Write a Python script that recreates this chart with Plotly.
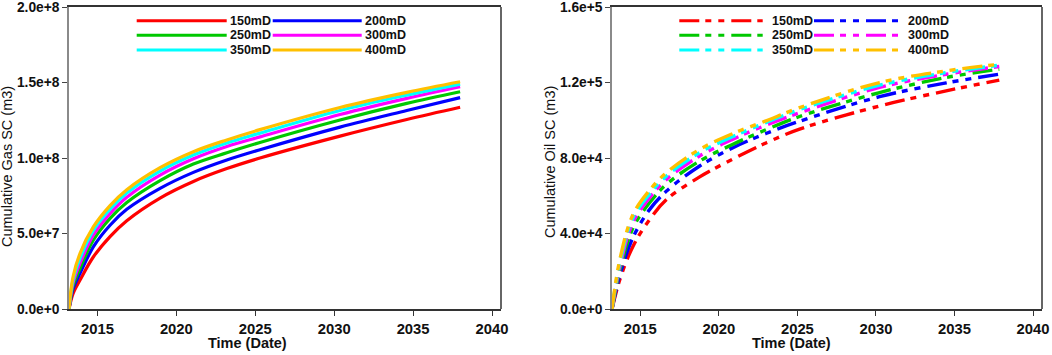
import plotly.graph_objects as go

# ---------------- data ----------------
labels = ["150mD", "200mD", "250mD", "300mD", "350mD", "400mD"]
colors = ["#ff0000", "#0000ff", "#00c800", "#ff00ff", "#00ffff", "#ffc000"]

t_gas = [2013.2, 2013.45, 2013.9, 2014.75, 2015.8, 2016.86, 2018.97,
         2021.08, 2023.2, 2025.3, 2030.37, 2034.6, 2037.98]
gas_150 = [0, 1.0e7, 1.92e7, 3.46e7, 4.8e7, 5.85e7, 7.35e7, 8.45e7, 9.3e7, 1.0e8, 1.145e8, 1.255e8, 1.336e8]
gas_200 = [0, 1.3e7, 2.36e7, 4.13e7, 5.55e7, 6.6e7, 7.99e7, 9.05e7, 9.87e7, 1.055e8, 1.205e8, 1.315e8, 1.40e8]
gas_250 = [0, 1.5e7, 2.7e7, 4.57e7, 6.0e7, 7.05e7, 8.5e7, 9.6e7, 1.035e8, 1.103e8, 1.252e8, 1.362e8, 1.439e8]
gas_300 = [0, 1.7e7, 3.03e7, 4.9e7, 6.32e7, 7.4e7, 8.87e7, 9.95e7, 1.076e8, 1.14e8, 1.288e8, 1.395e8, 1.472e8]
gas_350 = [0, 1.9e7, 3.36e7, 5.23e7, 6.62e7, 7.68e7, 9.14e7, 1.02e8, 1.1e8, 1.165e8, 1.315e8, 1.417e8, 1.49e8]
gas_400 = [0, 2.1e7, 3.69e7, 5.45e7, 6.85e7, 7.9e7, 9.36e7, 1.042e8, 1.12e8, 1.188e8, 1.335e8, 1.435e8, 1.505e8]

t_oil = [2013.2, 2013.7, 2014.54, 2015.6, 2016.67, 2018.78, 2020.9,
         2023.0, 2025.14, 2030.23, 2034.47, 2037.85]
oil_150 = [0, 1.57e4, 3.33e4, 4.75e4, 5.8e4, 7.0e4, 7.95e4, 8.8e4, 9.53e4, 1.076e5, 1.156e5, 1.213e5]
oil_200 = [0, 1.8e4, 3.8e4, 5.28e4, 6.25e4, 7.58e4, 8.55e4, 9.3e4, 9.95e4, 1.125e5, 1.198e5, 1.244e5]
oil_250 = [0, 2.05e4, 4.3e4, 5.64e4, 6.61e4, 7.84e4, 8.73e4, 9.5e4, 1.02e5, 1.147e5, 1.227e5, 1.271e5]
oil_300 = [0, 2.25e4, 4.6e4, 5.9e4, 6.87e4, 8.11e4, 9.0e4, 9.74e4, 1.04e5, 1.174e5, 1.244e5, 1.285e5]
oil_350 = [0, 2.45e4, 4.84e4, 6.1e4, 7.05e4, 8.29e4, 9.14e4, 9.88e4, 1.057e5, 1.186e5, 1.253e5, 1.292e5]
oil_400 = [0, 2.63e4, 5.01e4, 6.3e4, 7.23e4, 8.46e4, 9.3e4, 9.97e4, 1.067e5, 1.2e5, 1.262e5, 1.297e5]

x_ticks = [2015, 2020, 2025, 2030, 2035, 2040]
gas_ticks = [0, 5e7, 1e8, 1.5e8, 2e8]
gas_ticktext = ["0.0e+0", "5.0e+7", "1.0e+8", "1.5e+8", "2.0e+8"]
oil_ticks = [0, 4e4, 8e4, 1.2e5, 1.6e5]
oil_ticktext = ["0.0e+0", "4.0e+4", "8.0e+4", "1.2e+5", "1.6e+5"]

gas_series = [gas_150, gas_200, gas_250, gas_300, gas_350, gas_400]
oil_series = [oil_150, oil_200, oil_250, oil_300, oil_350, oil_400]

# ---------------- figure ----------------
W, H = 1052, 355
FONT = "Liberation Sans, Arial, sans-serif"
DASH = "20px,6px,6px,7px,6px,7px"


def px(x):
    return x / W


def py(y):
    return (H - y) / H


fig = go.Figure()

for lab, col, ys in zip(labels, colors, gas_series):
    fig.add_trace(go.Scatter(x=t_gas, y=ys, mode="lines", name=lab,
                             line=dict(color=col, width=3.2, shape="spline", smoothing=1.0),
                             xaxis="x", yaxis="y", showlegend=False))
for lab, col, ys in zip(labels, colors, oil_series):
    fig.add_trace(go.Scatter(x=t_oil, y=ys, mode="lines", name=lab,
                             line=dict(color=col, width=3.4, shape="spline", smoothing=1.0, dash=DASH),
                             xaxis="x2", yaxis="y2", showlegend=False))

xcommon = dict(range=[2013.2, 2040.57], tickvals=x_ticks, ticks="outside", ticklen=5,
               tickcolor="#333", showline=True, mirror=True, linecolor="#333", linewidth=1.5,
               showgrid=False, zeroline=False, ticklabeloverflow="allow", automargin=False,
               tickfont=dict(family=FONT, size=14.8, color="#111", weight="bold"))
ycommon = dict(ticks="outside", ticklen=5, tickcolor="#444", showline=True,
               linecolor="#8a8a8a", linewidth=1.5, showgrid=False, zeroline=False,
               ticklabeloverflow="allow", automargin=False,
               tickfont=dict(family=FONT, size=13.8, color="#111", weight="bold"))

ydom = [py(309), py(7)]
fig.update_layout(
    width=W, height=H, margin=dict(l=0, r=0, t=0, b=0, autoexpand=False),
    paper_bgcolor="white", plot_bgcolor="white",
    xaxis=dict(domain=[px(69), px(501)], anchor="y", **xcommon),
    yaxis=dict(domain=ydom, anchor="x", range=[0, 2.0005e8], tickvals=gas_ticks,
               ticktext=gas_ticktext, **ycommon),
    xaxis2=dict(domain=[px(612), px(1042)], anchor="y2", **xcommon),
    yaxis2=dict(domain=ydom, anchor="x2", range=[0, 1.6004e5], tickvals=oil_ticks,
                ticktext=oil_ticktext, **ycommon),
)

shapes = []
annotations = []
# right frame borders (dark)
for xr in ["x domain", "x2 domain"]:
    yr = "y domain" if xr == "x domain" else "y2 domain"
    shapes.append(dict(type="line", xref=xr, yref=yr, x0=1, x1=1, y0=0, y1=1,
                       line=dict(color="#333", width=1.5)))

# custom legends
rows = [20.7, 35.3, 50.0]
leg_left = [(136.7, 226.7, 228), (272.7, 361.7, 362.5)]
leg_right = [(679.3, 762.7, 770), (814, 900, 906)]
for i, (lab, col) in enumerate(zip(labels, colors)):
    r, c = divmod(i, 2)
    yrow = rows[r]
    for cols, dash, wid in [(leg_left, "solid", 3), (leg_right, DASH, 3)]:
        x0, x1, xt = cols[c]
        shapes.append(dict(type="line", xref="paper", yref="paper",
                           x0=px(x0), x1=px(x1), y0=py(yrow), y1=py(yrow),
                           line=dict(color=col, width=wid, dash=dash)))
        annotations.append(dict(text=lab, xref="paper", yref="paper", x=px(xt), y=py(yrow),
                                xanchor="left", yanchor="middle", showarrow=False,
                                font=dict(family=FONT, size=12.5, color="#111", weight="bold")))

# axis titles
annotations += [
    dict(text="Time (Date)", xref="paper", yref="paper", x=px(247), y=py(343),
         xanchor="center", yanchor="middle", showarrow=False,
         font=dict(family=FONT, size=14.5, color="#111", weight="bold")),
    dict(text="Time (Date)", xref="paper", yref="paper", x=px(791), y=py(343),
         xanchor="center", yanchor="middle", showarrow=False,
         font=dict(family=FONT, size=14.5, color="#111", weight="bold")),
    dict(text="Cumulative Gas SC (m3)", xref="paper", yref="paper", x=px(7), y=py(167),
         xanchor="center", yanchor="middle", showarrow=False, textangle=-90,
         font=dict(family=FONT, size=14.5, color="#111")),
    dict(text="Cumulative Oil SC (m3)", xref="paper", yref="paper", x=px(550), y=py(162),
         xanchor="center", yanchor="middle", showarrow=False, textangle=-90,
         font=dict(family=FONT, size=14.5, color="#111")),
]

fig.update_layout(shapes=shapes, annotations=annotations)
fig.write_html("out.html", config={"displayModeBar": False},
               post_script="document.body.style.margin='0px';")
